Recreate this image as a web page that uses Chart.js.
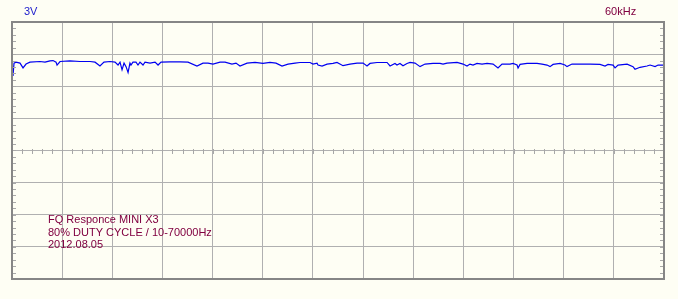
<!DOCTYPE html>
<html>
<head>
<meta charset="utf-8">
<script src="https://cdn.jsdelivr.net/npm/chart.js@4/dist/chart.umd.min.js"></script>
<style>
html, body { margin: 0; padding: 0; background: #fefef4; }
#wrap { position: relative; width: 678px; height: 299px; }
</style>
</head>
<body>
<div id="wrap"><canvas id="scope" width="678" height="299"></canvas></div>
<script>
// frequency in kHz (5 kHz per division, 13 divisions)
const freqKHz = [
    0.10, 0.20, 0.40, 0.80, 1.10, 1.40, 1.79, 2.79, 3.29, 3.79, 4.09, 4.39, 4.49, 4.79,
    5.78, 6.78, 7.78, 8.28, 8.77, 9.17, 9.77, 10.27, 10.57, 10.77, 10.97, 11.17, 11.37, 11.57,
    11.76, 11.86, 12.06, 12.36, 12.56, 12.76, 13.06, 13.26, 13.76, 14.26, 14.56, 14.86, 15.75,
    16.75, 17.55, 18.44, 19.04, 19.54, 20.04, 20.74, 21.24, 21.93, 22.33, 22.73, 23.43, 24.23,
    25.02, 25.72, 26.32, 26.92, 27.52, 28.22, 28.71, 29.71, 30.01, 30.41, 30.51, 30.91, 31.41,
    32.00, 32.40, 33.00, 33.70, 34.40, 35.00, 35.39, 35.69, 36.39, 37.39, 37.69, 38.18, 38.38,
    38.68, 38.98, 39.38, 39.68, 40.18, 40.68, 41.18, 41.97, 42.67, 42.97, 43.37, 44.37, 44.97,
    45.36, 45.66, 45.96, 46.36, 46.86, 47.36, 47.96, 48.45, 48.85, 49.65, 49.95, 50.35, 50.45,
    50.65, 51.35, 52.34, 52.84, 53.34, 53.64, 53.94, 54.64, 55.13, 55.33, 55.83, 56.63, 57.33,
    57.63, 58.62, 59.12, 59.42, 59.92, 60.12, 60.42, 61.32, 61.91, 62.11, 62.61, 63.31, 63.61,
    64.11, 64.41, 64.91
];
// level in divisions from the centre line
const level = [
    2.32, 2.72, 2.75, 2.72, 2.57, 2.69, 2.75, 2.77, 2.75, 2.79, 2.80, 2.75, 2.66, 2.77,
    2.79, 2.77, 2.77, 2.75, 2.63, 2.75, 2.77, 2.75, 2.66, 2.75, 2.51, 2.72, 2.61, 2.43,
    2.72, 2.66, 2.75, 2.75, 2.66, 2.75, 2.66, 2.75, 2.72, 2.75, 2.66, 2.75, 2.76,
    2.76, 2.75, 2.63, 2.72, 2.72, 2.69, 2.75, 2.75, 2.69, 2.72, 2.63, 2.72, 2.74,
    2.71, 2.74, 2.72, 2.63, 2.69, 2.72, 2.74, 2.74, 2.69, 2.72, 2.66, 2.63, 2.69,
    2.71, 2.74, 2.64, 2.69, 2.72, 2.72, 2.63, 2.71, 2.74, 2.74, 2.63, 2.71, 2.66,
    2.71, 2.64, 2.71, 2.74, 2.72, 2.61, 2.69, 2.71, 2.71, 2.69, 2.72, 2.74, 2.69,
    2.63, 2.69, 2.66, 2.71, 2.69, 2.71, 2.69, 2.57, 2.69, 2.69, 2.71, 2.66, 2.57,
    2.68, 2.71, 2.71, 2.69, 2.66, 2.61, 2.68, 2.71, 2.66, 2.61, 2.69, 2.69, 2.69,
    2.69, 2.68, 2.63, 2.68, 2.66, 2.57, 2.66, 2.69, 2.61, 2.53, 2.59, 2.63, 2.66,
    2.61, 2.66, 2.66
];
const xDivKHz = 5;
const xDivs = 13;
const yDivs = 8;
const voltLabel = '3V';
const rangeLabel = '60kHz';
const noteLines = ['FQ Responce MINI X3', '80% DUTY CYCLE / 10-70000Hz', '2012.08.05'];

const points = freqKHz.map((f, i) => ({ x: f, y: level[i] }));

// screen decorations: frame, minor ticks, texts
const scopeDeco = {
    id: 'scopeDeco',
    afterDraw(chart) {
        const ctx = chart.ctx;
        const a = chart.chartArea;
        const xs = chart.scales.x, ys = chart.scales.y;
        ctx.save();
        ctx.strokeStyle = '#a8a8a8';
        ctx.lineWidth = 1;
        ctx.beginPath();
        // minor ticks on left/right edges
        for (let v = -yDivs / 2; v <= yDivs / 2; v += 0.2) {
            const py = Math.round(ys.getPixelForValue(v)) + 0.5;
            ctx.moveTo(a.left, py); ctx.lineTo(a.left + 4, py);
            ctx.moveTo(a.right - 4, py); ctx.lineTo(a.right, py);
        }
        // minor ticks on the centre line
        const cy = Math.round(ys.getPixelForValue(0));
        for (let v = 0; v <= xDivs * xDivKHz; v += xDivKHz / 5) {
            const px = Math.round(xs.getPixelForValue(v)) + 0.5;
            ctx.moveTo(px, cy - 2); ctx.lineTo(px, cy + 3);
        }
        ctx.stroke();

        ctx.strokeStyle = '#868686';
        ctx.lineWidth = 2;
        ctx.strokeRect(a.left, a.top, a.right - a.left, a.bottom - a.top);

        ctx.font = '11px "Liberation Sans", Arial, sans-serif';
        ctx.textBaseline = 'middle';
        ctx.fillStyle = '#1a1acc';
        ctx.fillText(voltLabel, 24, 12);
        ctx.fillStyle = '#800040';
        ctx.fillText(rangeLabel, 605, 12);
        noteLines.forEach((t, i) => ctx.fillText(t, 48, 220 + i * 12.5));
        ctx.restore();
    }
};

new Chart(document.getElementById('scope'), {
    type: 'line',
    data: {
        datasets: [{
            data: points,
            borderColor: '#0000f0',
            borderWidth: 1.2,
            pointRadius: 0,
            tension: 0
        }]
    },
    options: {
        responsive: false,
        animation: false,
        devicePixelRatio: 1,
        layout: { padding: { left: 12, top: 22, right: 14, bottom: 20 } },
        plugins: { legend: { display: false }, tooltip: { enabled: false } },
        scales: {
            x: {
                type: 'linear',
                min: 0,
                max: xDivs * xDivKHz,
                ticks: { display: false, stepSize: xDivKHz },
                grid: { color: '#b0b0b0', drawTicks: false },
                border: { display: false }
            },
            y: {
                min: -yDivs / 2,
                max: yDivs / 2,
                ticks: { display: false, stepSize: 1 },
                grid: { color: '#b0b0b0', drawTicks: false },
                border: { display: false }
            }
        }
    },
    plugins: [scopeDeco]
});
</script>
</body>
</html>
